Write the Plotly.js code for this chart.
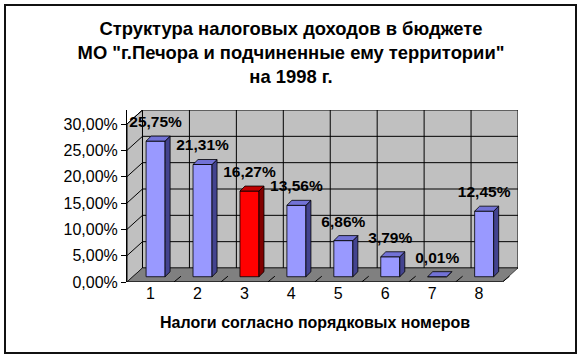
<!DOCTYPE html>
<html>
<head>
<meta charset="utf-8">
<script src="https://cdn.plot.ly/plotly-3.0.1.min.js"></script>
<style>
  html, body { margin: 0; padding: 0; background: #fff; }
  #wrap { position: relative; width: 582px; height: 358px; }
  #chart { width: 582px; height: 358px; }
  #frame { position: absolute; left: 4px; top: 4px; width: 573px; height: 350px;
           box-sizing: border-box; border: 2px solid #111; pointer-events: none; }
</style>
</head>
<body>
<div id="wrap"><div id="chart"></div><div id="frame"></div></div>
<script>
// ---- data ----
const categories = [1, 2, 3, 4, 5, 6, 7, 8];
const values = [25.75, 21.31, 16.27, 13.56, 6.86, 3.79, 0.01, 12.45]; // percent
const highlighted = [false, false, true, false, false, false, false, false];
const yTicks = [0, 5, 10, 15, 20, 25, 30];
const titleText = 'Структура налоговых доходов в бюджете<br>МО "г.Печора и подчиненные ему территории"<br>на 1998 г.';
const xTitleText = 'Налоги согласно порядковых номеров';

// ---- 3D geometry (in axis units) ----
const DX = 0.33;    // depth offset of the walls, category units
const DY = 2.66;    // depth offset of the walls, percent units
const BX = 0.109;   // bar front face offset
const BB = 1.0;     // bar base (sits mid-depth on the floor)
const BW = 0.405;   // bar width
const BDX = 0.107;  // bar depth x
const BDY = 0.95;   // bar depth y
const YMAX = 30;

const FONT = 'Liberation Sans, Arial, sans-serif';
const frontCol = highlighted.map(h => h ? '#ff0000' : '#9999ff');
const topCol = highlighted.map(h => h ? '#c00000' : '#7272d6');
const sideCol = highlighted.map(h => h ? '#800000' : '#43438f');

const traces = [];
traces.push({
  type: 'bar',
  x: categories.map(c => c + BX),
  y: values,
  base: values.map(() => BB),
  width: BW,
  marker: { color: frontCol, line: { color: '#000', width: 0.8 } },
  hoverinfo: 'skip',
  showlegend: false
});
categories.forEach((c, i) => {
  const xl = c + BX - BW / 2, xr = c + BX + BW / 2;
  const yb = BB, yt = BB + values[i];
  // side face
  traces.push({
    type: 'scatter', mode: 'lines', fill: 'toself',
    x: [xr, xr + BDX, xr + BDX, xr, xr],
    y: [yb, yb + BDY, yt + BDY, yt, yb],
    fillcolor: sideCol[i], line: { color: '#000', width: 0.8 },
    hoverinfo: 'skip', showlegend: false
  });
  // top face
  traces.push({
    type: 'scatter', mode: 'lines', fill: 'toself',
    x: [xl, xr, xr + BDX, xl + BDX, xl],
    y: [yt, yt, yt + BDY, yt + BDY, yt],
    fillcolor: topCol[i], line: { color: '#000', width: 0.8 },
    hoverinfo: 'skip', showlegend: false
  });
});
traces.push({
  type: 'scatter', mode: 'text',
  x: categories.map(c => c + BX),
  y: values.map(v => BB + v + 3.4),
  text: values.map(v => v.toFixed(2).replace('.', ',') + '%'),
  textposition: 'middle center',
  textfont: { family: FONT, size: 15.5, color: '#000', weight: 'bold' },
  cliponaxis: false,
  hoverinfo: 'skip', showlegend: false
});

// ---- walls / floor / grid as background shapes ----
const x0 = categories[0] - 0.5, x1 = categories[categories.length - 1] + 0.5;
const shapes = [];
const ln = { color: '#000', width: 1 };
// left wall
shapes.push({ type: 'path', layer: 'below', xref: 'x', yref: 'y',
  path: `M${x0},0 L${x0 + DX},${DY} L${x0 + DX},${YMAX + DY} L${x0},${YMAX} Z`,
  fillcolor: '#c0c0c0', line: ln });
// back wall
shapes.push({ type: 'rect', layer: 'below', xref: 'x', yref: 'y',
  x0: x0 + DX, x1: x1 + DX, y0: DY, y1: YMAX + DY, fillcolor: '#c0c0c0', line: ln });
// floor
shapes.push({ type: 'path', layer: 'below', xref: 'x', yref: 'y',
  path: `M${x0},0 L${x1},0 L${x1 + DX},${DY} L${x0 + DX},${DY} Z`,
  fillcolor: '#808080', line: { color: '#000', width: 0.6 } });
// grid on back wall and left wall
yTicks.forEach(v => {
  if (v > 0 && v < YMAX) {
    shapes.push({ type: 'line', layer: 'below', xref: 'x', yref: 'y',
      x0: x0 + DX, x1: x1 + DX, y0: v + DY, y1: v + DY, line: ln });
  }
  if (v > 0) {
    shapes.push({ type: 'line', layer: 'below', xref: 'x', yref: 'y',
      x0: x0, x1: x0 + DX, y0: v, y1: v + DY, line: ln });
  }
});
for (let k = 1; k < categories.length; k++) {
  const c = x0 + k;
  shapes.push({ type: 'line', layer: 'below', xref: 'x', yref: 'y',
    x0: c + DX, x1: c + DX, y0: DY, y1: YMAX + DY, line: ln });
}
// floor front edge and its slashes
shapes.push({ type: 'line', layer: 'above', xref: 'x', yref: 'y',
  x0: x0, x1: x1, y0: 0, y1: 0, line: { color: '#000', width: 1.2 } });
for (let k = 1; k <= categories.length; k++) {
  const c = x0 + k;
  shapes.push({ type: 'line', layer: 'below', xref: 'x', yref: 'y',
    x0: c, x1: c + 0.15, y0: 0, y1: 1.1, line: ln });
}

const layout = {
  width: 582, height: 358,
  margin: { l: 127, r: 64, t: 110, b: 76 },
  paper_bgcolor: '#fff', plot_bgcolor: 'rgba(0,0,0,0)',
  separators: ', ',
  font: { family: FONT, color: '#000' },
  title: {
    text: titleText,
    font: { family: FONT, size: 18.4, color: '#000', weight: 'bold' },
    x: 0.5, xref: 'container', xanchor: 'center',
    y: 1 - 35 / 358, yref: 'container', yanchor: 'top'
  },
  xaxis: {
    range: [x0, x1 + DX], tickvals: categories, ticktext: categories.map(String),
    showgrid: false, zeroline: false, showline: false, ticks: '',
    tickfont: { family: FONT, size: 16, color: '#000' }, fixedrange: true
  },
  yaxis: {
    range: [0, YMAX + DY], tickvals: yTicks,
    ticktext: yTicks.map(v => v.toFixed(2).replace('.', ',') + '%'),
    showgrid: false, zeroline: false, showline: true, linecolor: '#000', linewidth: 1,
    ticks: 'outside', ticklen: 5, tickcolor: '#000',
    tickfont: { family: FONT, size: 16, color: '#000' }, fixedrange: true
  },
  annotations: [{
    text: xTitleText, xref: 'x', yref: 'paper',
    x: (x0 + x1) / 2, y: -40 / 172, yanchor: 'middle', showarrow: false,
    font: { family: FONT, size: 16, color: '#000', weight: 'bold' }
  }],
  shapes: shapes,
  showlegend: false,
  bargap: 0
};

Plotly.newPlot('chart', traces, layout, { displayModeBar: false, staticPlot: true });
</script>
</body>
</html>
